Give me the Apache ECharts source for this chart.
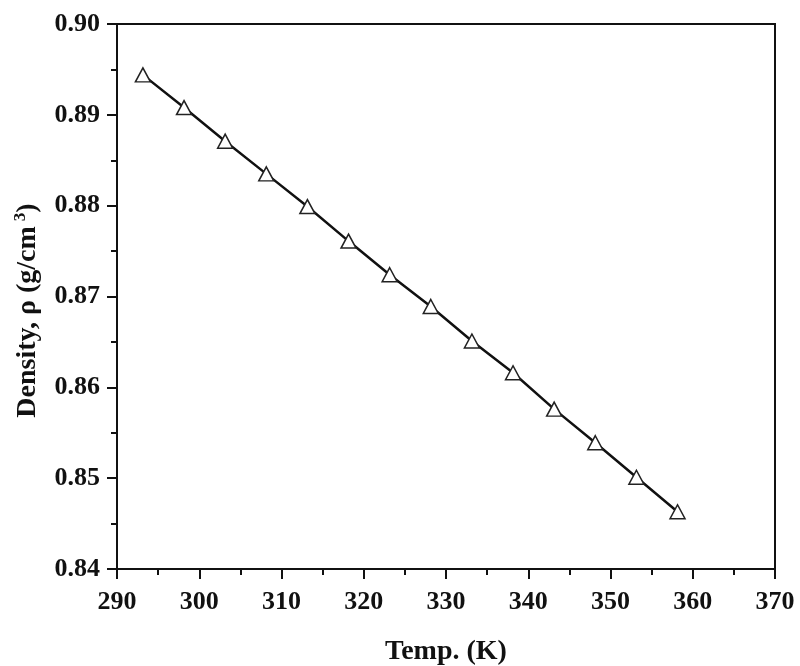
<!DOCTYPE html>
<html>
<head>
<meta charset="utf-8">
<script src="https://cdn.jsdelivr.net/npm/echarts@6/dist/echarts.min.js"></script>
<style>
html,body{margin:0;padding:0;background:#fff;}
#chart{width:800px;height:666px;}
</style>
</head>
<body>
<div id="chart"></div>
<script>
// Data
const temperatures = [293.15, 298.15, 303.15, 308.15, 313.15, 318.15, 323.15, 328.15, 333.15, 338.15, 343.15, 348.15, 353.15, 358.15];
const densities = [0.8944, 0.8908, 0.8871, 0.8835, 0.8799, 0.8761, 0.8724, 0.8689, 0.8651, 0.8616, 0.8576, 0.8539, 0.8501, 0.8463];
const xTicks = [290, 300, 310, 320, 330, 340, 350, 360, 370];
const yTicks = [0.84, 0.85, 0.86, 0.87, 0.88, 0.89, 0.90];

const points = temperatures.map((t, i) => [t, densities[i]]);
const font = '"Liberation Serif", "Times New Roman", serif';

const chart = echarts.init(document.getElementById('chart'), null, {renderer: 'canvas'});
chart.setOption({
  backgroundColor: '#ffffff',
  animation: false,
  grid: {left: 117, right: 25, top: 24, bottom: 97, containLabel: false, outerBoundsMode: 'none', show: true, borderColor: '#111', borderWidth: 2, backgroundColor: 'transparent'},
  xAxis: {
    type: 'value',
    min: xTicks[0], max: xTicks[xTicks.length - 1], interval: 10,
    name: 'Temp. (K)', nameLocation: 'middle', nameGap: 69,
    nameTextStyle: {fontFamily: font, fontWeight: 'bold', fontSize: 28, color: '#111'},
    axisLine: {show: true, lineStyle: {color: '#111', width: 2}},
    axisTick: {show: true, inside: false, length: 10, lineStyle: {color: '#111', width: 2}},
    minorTick: {show: true, splitNumber: 2, length: 6, lineStyle: {color: '#111', width: 2}},
    splitLine: {show: false},
    axisLabel: {fontFamily: font, fontWeight: 'bold', fontSize: 26, color: '#111', margin: 20, formatter: v => String(v)}
  },
  yAxis: {
    type: 'value',
    min: yTicks[0], max: yTicks[yTicks.length - 1], interval: 0.01,
    name: '{a|Density, ρ (g/cm}{s|3}{a|)}', nameLocation: 'middle', nameGap: 73,
    nameTextStyle: {
      padding: [0, 28, 0, 0],
      rich: {
        a: {fontFamily: font, fontWeight: 'bold', fontSize: 28, color: '#111', lineHeight: 32},
        s: {fontFamily: font, fontWeight: 'bold', fontSize: 17, color: '#111', verticalAlign: 'top', lineHeight: 32, padding: [0, 0, 10, 5]}
      }
    },
    axisLine: {show: true, lineStyle: {color: '#111', width: 2}},
    axisTick: {show: true, inside: false, length: 10, lineStyle: {color: '#111', width: 2}},
    minorTick: {show: true, splitNumber: 2, length: 6, lineStyle: {color: '#111', width: 2}},
    splitLine: {show: false},
    axisLabel: {fontFamily: font, fontWeight: 'bold', fontSize: 26, color: '#111', margin: 17, formatter: v => v.toFixed(2)}
  },
  series: [{
    type: 'line',
    data: points,
    symbol: 'triangle',
    symbolSize: [15, 14],
    showAllSymbol: true,
    lineStyle: {color: '#111', width: 2.5},
    itemStyle: {color: '#ffffff', borderColor: '#222', borderWidth: 1.5},
    z: 3
  }]
});
</script>
</body>
</html>
